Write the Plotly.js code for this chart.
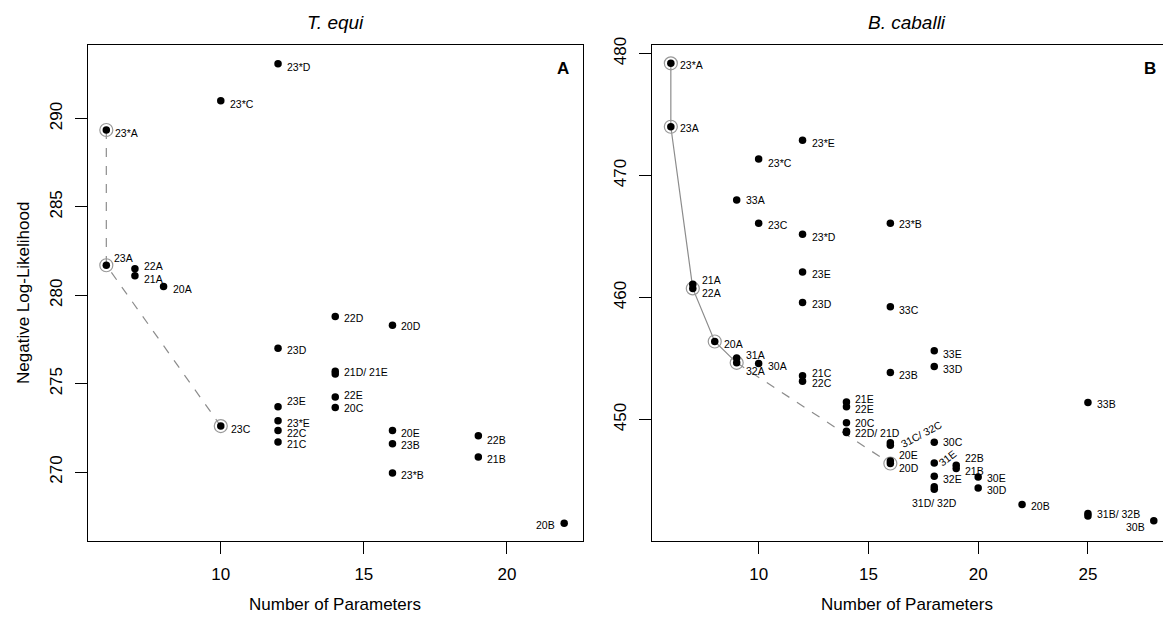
<!DOCTYPE html>
<html><head><meta charset="utf-8">
<script src="https://cdn.plot.ly/plotly-3.0.1.min.js"></script>
<style>html,body{margin:0;padding:0;background:#fff}#chart{width:1163px;height:617px}</style>
</head><body><div id="chart"></div>
<script>
// ---------- T. equi (panel A) ----------
const teModels = ["23*A","23A","22A","21A","20A","23*C","23C","23*D","23D","23E","23*E","22C","21C","22D","21D","21E","22E","20C","20D","20E","23B","23*B","22B","21B","20B"];
const teParams = [6,6,7,7,8,10,10,12,12,12,12,12,12,14,14,14,14,14,16,16,16,16,19,19,22];
const teNLL    = [289.35,281.7,281.5,281.1,280.5,291.0,272.6,293.1,277.0,273.7,272.9,272.35,271.7,278.8,275.7,275.55,274.25,273.65,278.3,272.35,271.6,269.95,272.05,270.85,267.1];
const teFrontDashed = ["23*A","23A","23C"];
const teCircled = ["23*A","23A","23C"];
const teLabelText = {"21D":"21D/ 21E","21E":""};

// ---------- B. caballi (panel B) ----------
const bcModels = ["23*A","23A","21A","22A","20A","33A","31A","32A","23*C","23C","30A","23*E","23*D","23E","23D","21C","22C","21E","22E","20C","22D","21D","23*B","33C","23B","31C","32C","20E","20D","33E","33D","30C","31E","32E","31D","32D","22B","21B","30E","30D","20B","33B","31B","32B","30B"];
const bcParams = [6,6,7,7,8,9,9,9,10,10,10,12,12,12,12,12,12,14,14,14,14,14,16,16,16,16,16,16,16,18,18,18,18,18,18,18,19,19,20,20,22,25,25,25,28];
const bcNLL    = [479.2,474.0,461.1,460.75,456.4,468.0,455.05,454.65,471.35,466.1,454.6,472.9,465.2,462.1,459.6,453.6,453.15,451.45,451.05,449.75,449.05,448.95,466.1,459.25,453.85,448.1,447.9,446.6,446.4,455.65,454.35,448.15,446.45,445.35,444.5,444.3,446.25,446.0,445.3,444.4,443.05,451.4,442.3,442.1,441.7];
const bcFrontSolid  = ["23*A","23A","22A","20A","32A"];
const bcFrontDashed = ["32A","20D"];
const bcCircled = ["23*A","23A","22A","20A","32A","20D"];
const bcLabelText = {"22D":"22D/ 21D","21D":"","31C":"31C/ 32C","32C":"","31D":"31D/ 32D","32D":"","31B":"31B/ 32B","32B":""};

const xTicksA = [10,15,20];
const yTicksA = [270,275,280,285,290];
const xTicksB = [10,15,20,25];
const yTicksB = [450,460,470,480];

// ---------- label placement (style only) ----------
const placeA = {
  "23*A":{dy:-3},"23A":{dy:7,dx:6},"22A":{dy:3},"21A":{dy:-3},"20A":{dy:-3},
  "23*C":{dy:-3},"23C":{dy:-3,dx:8},"23*D":{dy:-3},"23D":{dy:-2},"23E":{dy:6},
  "23*E":{dy:-2},"22C":{dy:-2},"21C":{dy:-2},"22D":{dy:-1},"21D":{dy:-1},
  "22E":{dy:2},"20C":{dy:0},"20D":{dy:-1},"20E":{dy:-2},"23B":{dy:-1},
  "23*B":{dy:-2},"22B":{dy:-4},"21B":{dy:-2},"20B":{dx:-7,dy:-2,anchor:"right"}
};
const placeB = {
  "23*A":{dy:-2},"23A":{dy:-1},"21A":{dy:4},"22A":{dy:-5},"20A":{dy:-2},"33A":{dy:0},
  "31A":{dy:3},"32A":{dy:-8},"23*C":{dy:-4},"23C":{dy:-2},"30A":{dy:-3},"23*E":{dy:-3},
  "23*D":{dy:-3},"23E":{dy:-2},"23D":{dy:-2},"21C":{dy:3},"22C":{dy:-2},"21E":{dy:3},
  "22E":{dy:-2},"20C":{dy:0},"22D":{dy:-2},"23*B":{dy:-1},"33C":{dy:-3},"23B":{dy:-2},
  "31C":{dx:31,dy:9,anchor:"center",angle:-28},"20E":{dy:6},"20D":{dy:-4},"33E":{dy:-3},
  "33D":{dy:-2},"30C":{dy:0},"31E":{dx:13,dy:5,anchor:"center",angle:-38},"32E":{dy:-3},
  "31D":{dx:0,dy:-16,anchor:"center"},"22B":{dy:7},"21B":{dy:-3},"30E":{dy:-1},
  "30D":{dy:-2},"20B":{dy:-2},"33B":{dy:-1},"31B":{dy:0},"30B":{dx:-7,dy:-6,anchor:"right"}
};

const FONT = "Liberation Sans, Arial, Helvetica, sans-serif";
const LINEGREY = "#8c8c8c";

function pick(models, vals, names){ return names.map(n => vals[models.indexOf(n)]); }

function panelTraces(models, params, nll, xa, ya, lines, circled){
  const tr = [];
  lines.forEach(l => tr.push({
    type:"scatter", mode:"lines", x:pick(models,params,l.names), y:pick(models,nll,l.names),
    xaxis:xa, yaxis:ya, line:{color:LINEGREY, width:1.2, dash:l.dash}, hoverinfo:"skip", showlegend:false
  }));
  tr.push({type:"scatter", mode:"markers", x:pick(models,params,circled), y:pick(models,nll,circled),
    xaxis:xa, yaxis:ya, marker:{size:13, color:"rgba(0,0,0,0)", line:{color:"#999", width:1.2}}, showlegend:false, hoverinfo:"skip"});
  tr.push({type:"scatter", mode:"markers", x:params, y:nll, xaxis:xa, yaxis:ya, text:models,
    marker:{size:7.5, color:"#000"}, showlegend:false});
  return tr;
}

function panelLabels(models, params, nll, xref, yref, textMap, place){
  return models.map((m,i) => {
    const p = Object.assign({dx:7, dy:-2, anchor:"left", angle:0}, place[m] || {});
    const t = (m in textMap) ? textMap[m] : m;
    return {x:params[i], y:nll[i], xref:xref, yref:yref, text:t, showarrow:false,
      xanchor:p.anchor, yanchor:"middle", xshift:p.dx, yshift:p.dy, textangle:p.angle,
      font:{family:FONT, size:10.5, color:"#000"}};
  }).filter(a => a.text !== "");
}

const traces = [].concat(
  panelTraces(teModels, teParams, teNLL, "x", "y", [{names:teFrontDashed, dash:"dash"}], teCircled),
  panelTraces(bcModels, bcParams, bcNLL, "x2", "y2", [{names:bcFrontSolid, dash:"solid"},{names:bcFrontDashed, dash:"dash"}], bcCircled)
);

const axisCommon = {showgrid:false, zeroline:false, showline:true, linecolor:"#000", linewidth:1,
  ticks:"outside", ticklen:12, tickcolor:"#000", tickwidth:1,
  tickfont:{family:FONT, size:17, color:"#000"}};

const annotations = [].concat(
  panelLabels(teModels, teParams, teNLL, "x", "y", teLabelText, placeA),
  panelLabels(bcModels, bcParams, bcNLL, "x2", "y2", bcLabelText, placeB),
  [
    {text:"<i>T. equi</i>", xref:"paper", yref:"paper", x:0.23, y:1.046, showarrow:false, xanchor:"center", yanchor:"middle", font:{family:FONT, size:19, color:"#000"}},
    {text:"<i>B. caballi</i>", xref:"paper", yref:"paper", x:0.762, y:1.046, showarrow:false, xanchor:"center", yanchor:"middle", font:{family:FONT, size:19, color:"#000"}},
    {text:"<b>A</b>", xref:"paper", yref:"paper", x:0.442, y:0.953, showarrow:false, xanchor:"center", yanchor:"middle", font:{family:FONT, size:17, color:"#000"}},
    {text:"<b>B</b>", xref:"paper", yref:"paper", x:0.988, y:0.953, showarrow:false, xanchor:"center", yanchor:"middle", font:{family:FONT, size:17, color:"#000"}},
    {text:"Number of Parameters", xref:"paper", yref:"paper", x:0.23, y:-0.129, showarrow:false, xanchor:"center", yanchor:"middle", font:{family:FONT, size:17, color:"#000"}},
    {text:"Number of Parameters", xref:"paper", yref:"paper", x:0.762, y:-0.129, showarrow:false, xanchor:"center", yanchor:"middle", font:{family:FONT, size:17, color:"#000"}},
    {text:"Negative Log-Likelihood", xref:"paper", yref:"paper", x:-0.0605, y:0.5, showarrow:false, textangle:-90, xanchor:"center", yanchor:"middle", font:{family:FONT, size:17, color:"#000"}}
  ]
);

const layout = {
  width:1163, height:617, paper_bgcolor:"#fff", plot_bgcolor:"#fff",
  margin:{l:88, r:0, t:45, b:76}, showlegend:false, hovermode:"closest",
  xaxis: Object.assign({}, axisCommon, {domain:[0,0.46], range:[5.36,22.64], tickvals:xTicksA, mirror:true, ticklabelstandoff:6}),
  yaxis: Object.assign({}, axisCommon, {domain:[0,1], range:[266.1,294.16], tickvals:yTicksA, mirror:true, tickangle:-90, ticklabelstandoff:6}),
  xaxis2: Object.assign({}, axisCommon, {domain:[0.5242,1], range:[5.12,28.42], tickvals:xTicksB, anchor:"y2", mirror:true, ticklabelstandoff:6}),
  yaxis2: Object.assign({}, axisCommon, {domain:[0,1], range:[440.05,480.7], tickvals:yTicksB, anchor:"x2", tickangle:-90, ticklabelstandoff:6}),
  annotations: annotations
};

Plotly.newPlot("chart", traces, layout, {displayModeBar:false, staticPlot:true});
</script></body></html>
